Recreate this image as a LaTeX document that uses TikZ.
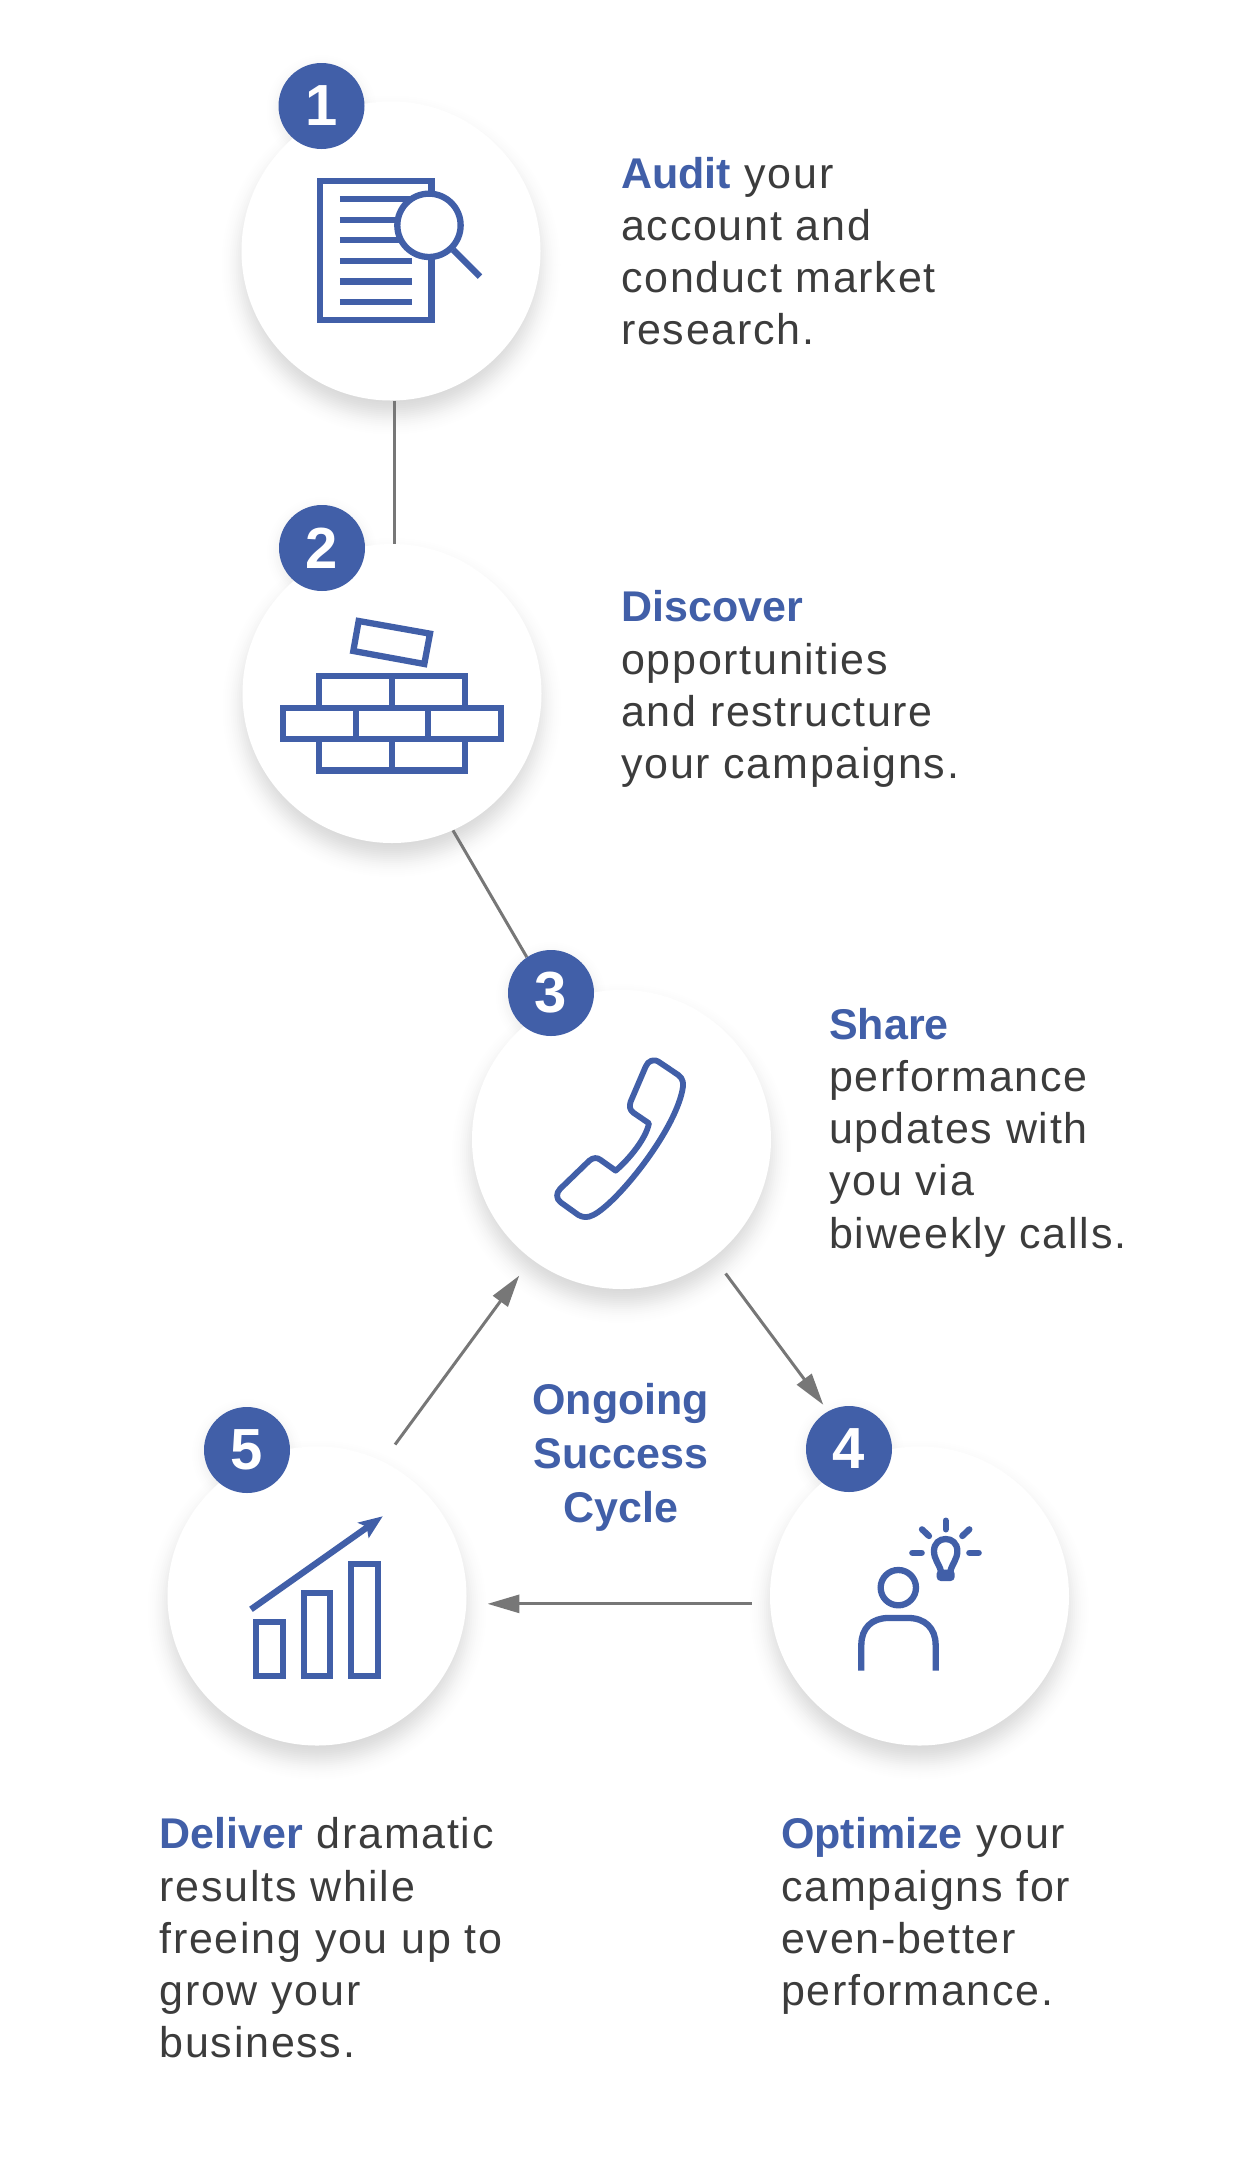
\documentclass[tikz,border=0pt]{standalone}
\usepackage{fontspec}
\setmainfont[LetterSpace=4,BoldFeatures={LetterSpace=0}]{Liberation Sans}
\usetikzlibrary{arrows.meta}
\usetikzlibrary{backgrounds}
\definecolor{stepblue}{RGB}{65,95,168}
\definecolor{steptext}{RGB}{60,60,60}
\definecolor{linkgray}{RGB}{119,119,119}
\tikzstyle{stepnode} = [circle, fill=white, minimum size=299pt, inner sep=0pt]
\tikzstyle{numnode} = [circle, fill=stepblue, text=white, minimum size=86pt, inner sep=0pt, font=\fontsize{58}{58}\selectfont\bfseries]
\tikzstyle{textnode} = [anchor=north west, inner sep=0pt, align=left, text=steptext, font=\fontsize{43}{52.2}\selectfont]
\tikzstyle{cyclenode} = [anchor=north, inner sep=0pt, align=center, text=stepblue, font=\fontsize{43}{54}\selectfont\bfseries]
\tikzstyle{link} = [linkgray, line width=3pt]
\tikzstyle{flow} = [link, -{Triangle[length=32pt, width=18pt]}]
\tikzstyle{icon} = [stepblue, line width=6.3pt]
\newcommand{\stepword}[1]{\textcolor{stepblue}{\textbf{#1}}}

\begin{document}
\begin{tikzpicture}[x=1pt, y=-1pt]
  \useasboundingbox (0,0) rectangle (1242,2158);

  \node[stepnode] (c1) at (391,251) {};
  \node[stepnode] (c2) at (392,693.5) {};
  \node[stepnode] (c3) at (621.5,1139.5) {};
  \node[stepnode] (c4) at (919.5,1596) {};
  \node[stepnode] (c5) at (317,1596) {};

  \node[numnode] (n1) at (321.5,106) {1};
  \node[numnode] (n2) at (322,548) {2};
  \node[numnode] (n3) at (551,993) {3};
  \node[numnode] (n4) at (849,1449) {4};
  \node[numnode] (n5) at (247,1450) {5};

  % soft shadows and links go under the circles
  \begin{pgfonlayer}{background}
    \foreach \c in {c1,c2,c3,c4,c5}
      \foreach \d in {-30,-28,...,36} {
        \pgfmathsetmacro{\op}{0.0125*exp(-(\d/16)^2)}
        \fill[black, opacity=\op] ([yshift=-14pt]\c.center) circle ({149.5+\d});
      }
    \foreach \c in {n1,n2,n3,n4,n5}
      \foreach \d in {-16,-14,...,24} {
        \pgfmathsetmacro{\op}{0.009*exp(-(\d/10)^2)}
        \fill[black, opacity=\op] ([yshift=-4pt]\c.center) circle ({43+\d});
      }

    \draw[link] ([xshift=3.7pt]c1.south) -- ([xshift=2.7pt]c2.north);
    \draw[link] (c2.-66.4) -- (n3.124.8);
    \draw[flow, shorten <=20pt, shorten >=8pt] (c3.-52.4) -- (n4.119.2);
    \draw[flow, shorten <=18.5pt, shorten >=21pt] (c4.183.4) -- (c5.-3.4);
    \draw[flow, shorten <=21pt, shorten >=20.5pt] (c5.64.9) -- (c3.233.5);
  \end{pgfonlayer}

  % document with magnifier
  \begin{scope}[shift={(220,40)}, scale=0.3333]
    \draw[icon] (300,424) rectangle (635,841);
    \foreach \y in {478,540,601,663,725,786}
      \draw[icon] (360,\y) -- (575,\y);
    \draw[icon, fill=white] (627,556) circle (95);
    \draw[icon] (700,630) -- (780,710);
  \end{scope}

  % bricks
  \begin{scope}[shift={(220,490)}, scale=0.3333]
    \draw[icon] (416,393) -- (630,431) -- (613,522) -- (400,483) -- cycle;
    \draw[icon] (297,654) -- (297,559) -- (735,559) -- (735,654);
    \draw[icon] (188,654) rectangle (844,747);
    \draw[icon] (297,747) -- (297,842) -- (735,842) -- (735,747);
    \draw[icon] (516,559) -- (516,654);
    \draw[icon] (516,747) -- (516,842);
    \draw[icon] (407,654) -- (407,747);
    \draw[icon] (625,654) -- (625,747);
  \end{scope}

  % phone
  \begin{scope}[shift={(450,940)}, scale=0.3333]
    \draw[icon, line width=5.8pt, line join=round]
      (587,380) .. controls (594,362) and (612,354) .. (630,368)
      -- (685,405) .. controls (700,416) and (702,432) .. (697,452)
      .. controls (670,580) and (500,790) .. (430,825)
      .. controls (412,834) and (400,833) .. (385,825)
      -- (332,787) .. controls (318,776) and (318,760) .. (330,747)
      -- (418,662) .. controls (430,652) and (442,652) .. (452,660)
      -- (497,692) .. controls (540,655) and (588,595) .. (597,550)
      -- (550,518) .. controls (538,508) and (538,498) .. (542,485)
      -- cycle;
  \end{scope}

  % person
  \begin{scope}[shift={(760,1380)}, scale=0.3333]
    \draw[icon] (415,623) circle (53);
    \draw[icon] (304,872) -- (304,795) .. controls (304,745) and (335,714) .. (385,714)
      -- (445,714) .. controls (495,714) and (527,745) .. (527,795) -- (527,872);
  \end{scope}

  % bulb
  \begin{scope}[shift={(880,1500)}, scale=0.3333]
    \draw[icon] (183,214) .. controls (177,190) and (162,178) .. (162,153)
      .. controls (162,130) and (178,117) .. (197,117)
      .. controls (216,117) and (232,130) .. (232,153)
      .. controls (232,178) and (217,190) .. (211,214);
    \fill[stepblue, rounded corners=4pt] (170,209) rectangle (224,243);
    \foreach \a/\b/\e/\f in {197/62/197/88, 126/88/147/108, 268/88/247/108, 97/158/125/158, 268/158/296/158}
      \draw[icon, line cap=round] (\a,\b) -- (\e,\f);
  \end{scope}

  % bars with rising arrow
  \begin{scope}[shift={(150,1380)}, scale=0.3333]
    \draw[icon] (318,727) rectangle (398,888);
    \draw[icon] (461,640) rectangle (541,888);
    \draw[icon] (604,552) rectangle (684,888);
    \draw[icon] (303,688) -- (660,436);
    \fill[stepblue] (698,409) -- (622,428) -- (650,440) -- (656,475) -- cycle;
  \end{scope}

  \node[textnode] (t1) at (621,157) {\stepword{Audit} your\\account and\\conduct market\\research.};
  \node[textnode] (t2) at (621,590.5) {\stepword{Discover}\\opportunities\\and restructure\\your campaigns.};
  \node[textnode] (t3) at (829,1008) {\stepword{Share}\\performance\\updates with\\you via\\biweekly calls.};
  \node[textnode] (t4) at (781,1817.5) {\stepword{Optimize} your\\campaigns for\\even-better\\performance.};
  \node[textnode] (t5) at (159.5,1817.5) {\stepword{Deliver} dramatic\\results while\\freeing you up to\\grow your\\business.};
  \node[cyclenode] (cycle) at (620.7,1383) {Ongoing\\Success\\Cycle};
\end{tikzpicture}
\end{document}
